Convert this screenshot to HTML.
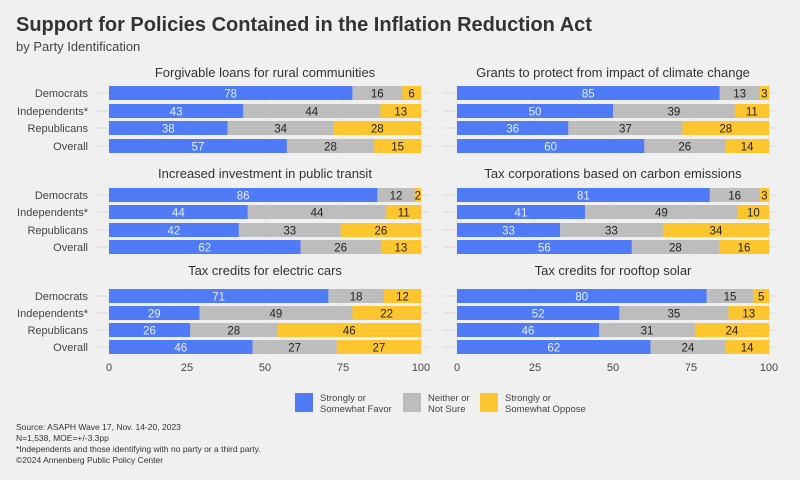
<!DOCTYPE html>
<html><head><meta charset="utf-8"><style>
body{margin:0;background:#f0f0f0;}
svg{display:block;font-family:"Liberation Sans",sans-serif;}
</style></head><body>
<svg id="s" width="800" height="480" xmlns="http://www.w3.org/2000/svg">
<rect width="800" height="480" fill="#f0f0f0"/>
<text x="16" y="31" font-size="20" font-weight="bold" fill="#333">Support for Policies Contained in the Inflation Reduction Act</text>
<text x="16" y="51" font-size="13" fill="#444">by Party Identification</text>
<g id="g"></g>
<rect x="295" y="393" width="18" height="19" fill="#4f7bf7"/>
<text x="320" y="401" font-size="9.5" fill="#444">Strongly or</text><text x="320" y="412" font-size="9.5" fill="#444">Somewhat Favor</text>
<rect x="403" y="393" width="18" height="19" fill="#bdbdbd"/>
<text x="428" y="401" font-size="9.5" fill="#444">Neither or</text><text x="428" y="412" font-size="9.5" fill="#444">Not Sure</text>
<rect x="480" y="393" width="18" height="19" fill="#fdc62f"/>
<text x="505" y="401" font-size="9.5" fill="#444">Strongly or</text><text x="505" y="412" font-size="9.5" fill="#444">Somewhat Oppose</text>
<g font-size="8.5" fill="#333">
<text x="16" y="430">Source: ASAPH Wave 17, Nov. 14-20, 2023</text>
<text x="16" y="441">N=1,538, MOE=+/-3.3pp</text>
<text x="16" y="452">*Independents and those identifying with no party or a third party.</text>
<text x="16" y="463">©2024 Annenberg Public Policy Center</text>
</g>
</svg>
<script>
var P=[
["Forgivable loans for rural communities",[[78,16,6],[43,44,13],[38,34,28],[57,28,15]]],
["Grants to protect from impact of climate change",[[85,13,3],[50,39,11],[36,37,28],[60,26,14]]],
["Increased investment in public transit",[[86,12,2],[44,44,11],[42,33,26],[62,26,13]]],
["Tax corporations based on carbon emissions",[[81,16,3],[41,49,10],[33,33,34],[56,28,16]]],
["Tax credits for electric cars",[[71,18,12],[29,49,22],[26,28,46],[46,27,27]]],
["Tax credits for rooftop solar",[[80,15,5],[52,35,13],[46,31,24],[62,24,14]]]];
var names=["Democrats","Independents*","Republicans","Overall"];
var tops=[72,173,270], rows=[[93,111,128,146],[195,212,230,247],[296,313,330,347]];
var X0=[109,457],W=312,cols=["#4f7bf7","#bdbdbd","#fdc62f"];
var h="";
P.forEach(function(p,i){
 var c=i%2,r=Math.floor(i/2),x0=X0[c];
 h+='<text x="'+(x0+W/2)+'" y="'+(tops[r]+5)+'" font-size="13" fill="#333" text-anchor="middle">'+p[0]+'</text>';
 for(var k=0;k<=4;k++){var gx=x0+W*k/4;h+='<line x1="'+gx+'" x2="'+gx+'" y1="'+(rows[r][0]-9)+'" y2="'+(rows[r][3]+9)+'" stroke="#e4e4e4"/>';}
 p[1].forEach(function(v,j){
  var y=rows[r][j],x=x0;
  if(c==0){h+='<text x="88" y="'+(y+4)+'" font-size="11" fill="#444" text-anchor="end">'+names[j]+'</text>';}
  h+='<line x1="'+(x0-14)+'" x2="'+(x0)+'" y1="'+y+'" y2="'+y+'" stroke="#ddd"/>';
  h+='<line x1="'+(x0+W)+'" x2="'+(x0+W+8)+'" y1="'+y+'" y2="'+y+'" stroke="#ddd"/>';
  var tot=v[0]+v[1]+v[2];
  v.forEach(function(a,q){
   var w=W*a/tot;
   h+='<rect x="'+x+'" y="'+(y-7)+'" width="'+(w+0.3)+'" height="14" fill="'+cols[q]+'"/>';
   h+='<text x="'+(x+w/2)+'" y="'+(y+4.5)+'" font-size="11.5" text-anchor="middle" fill="'+(q==0?'#e8eeff':'#222')+'">'+a+'</text>';
   x+=w;});
 });
 if(r==2){for(var k=0;k<=4;k++){h+='<text x="'+(x0+W*k/4)+'" y="371" font-size="11" fill="#444" text-anchor="middle">'+(k*25)+'</text>';}}
});
document.getElementById("g").innerHTML=h;
</script>
</body></html>
